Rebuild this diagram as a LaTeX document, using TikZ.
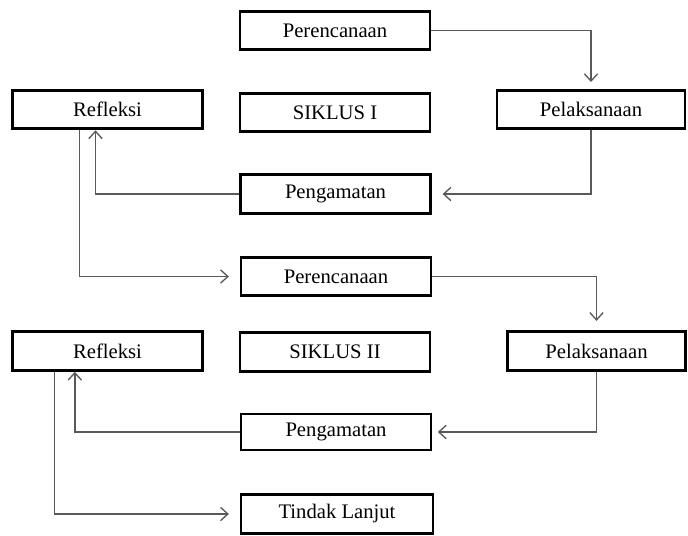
\documentclass[tikz,border=0pt]{standalone}
\usepackage{fontspec}
\setmainfont{Liberation Serif}
\usetikzlibrary{arrows.meta}
\begin{document}
\begin{tikzpicture}[x=0.75pt,y=-0.75pt,
  box/.style={draw=black,line width=2.2pt,fill=white,minimum width=142.5pt,minimum height=29pt,inner sep=0pt,font=\fontsize{15.5}{18}\selectfont,text=black},
  conn/.style={draw=black!65,line width=1pt,-{Straight Barb[length=5.5pt,width=10pt,line width=1pt]}},
  plain/.style={draw=black!65,line width=1pt}]
\useasboundingbox (0,0) rectangle (688,535);
\node[box] (P1) at (335,30.5) {Perencanaan};
\node[box] (R1) at (107.5,109.5) {Refleksi};
\node[box] (S1) at (335,112.5) {SIKLUS I};
\node[box,minimum width=141pt] (L1) at (591,109.5) {Pelaksanaan};
\node[box] (G1) at (335.5,194) {Pengamatan};
\node[box] (P2) at (336,276.5) {Perencanaan};
\node[box] (R2) at (107.5,351) {Refleksi};
\node[box] (S2) at (335,352) {SIKLUS II};
\node[box,minimum width=134pt] (L2) at (596.5,351) {Pelaksanaan};
\node[box,minimum height=27pt] (G2) at (336,432) {Pengamatan};
\node[box,minimum width=144pt] (T) at (337,514) {Tindak Lanjut};
% cycle I
\draw[conn,shorten >=5pt] (P1.east) -| (L1.north);
\draw[conn,shorten >=8pt] (L1.south) |- (G1.east);
\draw[conn] (G1.west) -| ([xshift=-9pt]R1.south);
\draw[conn,shorten >=8pt] ([xshift=-21pt]R1.south) |- (P2.west);
% cycle II
\draw[conn,shorten >=7pt] (P2.east) -| (L2.north);
\draw[conn,shorten >=4pt] (L2.south) |- (G2.east);
\draw[conn] (G2.west) -| ([xshift=-24.5pt]R2.south);
\draw[conn,shorten >=8pt] ([xshift=-40pt]R2.south) |- (T.west);
\end{tikzpicture}
\end{document}
